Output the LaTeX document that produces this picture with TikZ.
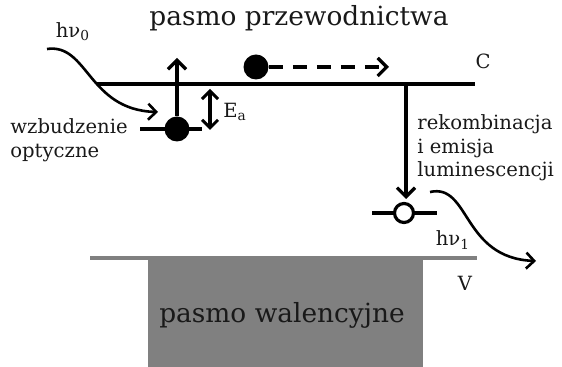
\documentclass[tikz,border=0pt]{standalone}
\usepackage{fontspec}
\setmainfont{DejaVu Serif}
\usetikzlibrary{arrows.meta}

\tikzset{
  level/.style={line width=2pt},
  electron/.style={circle, fill, inner sep=0pt, minimum size=12.5pt},
  hole/.style={circle, draw, fill=white, line width=1.6pt, inner sep=0pt, minimum size=9.5pt},
  tip/.style={-{Straight Barb[length=4.5pt, width=9pt, line width=1.6pt]}},
  jump/.style={line width=2pt, tip},
  photon/.style={line width=1.3pt, -{Straight Barb[length=4pt, width=8pt, line width=1.3pt]}},
  lbl/.style={font=\fontsize{9.8}{11.8}\selectfont, text=black!90, inner sep=0pt},
  big/.style={font=\fontsize{13.2}{15}\selectfont, text=black!90, inner sep=0pt}
}

\begin{document}
\begin{tikzpicture}[x=0.5pt, y=-0.5pt]
  \useasboundingbox (0,0) rectangle (562,367);

  % valence band
  \fill[black!50] (148,258) rectangle (423,367);
  \draw[level, black!50] (90,258) -- (477,258);
  \node[big] (vb) at (282,315) {pasmo walencyjne};
  \node[lbl] (vlab) at (465,283) {V};

  % conduction band
  \coordinate (cl) at (97,84);
  \coordinate (cr) at (475,84);
  \draw[level] (cl) -- (cr);
  \node[big] (cb) at (299,18) {pasmo przewodnictwa};
  \node[lbl] (clab) at (483,61) {C};

  % trap level with electron
  \draw[level] (140,129) -- (202,129);
  \node[electron] (e1) at (177,129) {};
  \coordinate (up) at (177,58);
  \draw[jump] (e1) -- (up);
  \coordinate (ea1) at (210,89);
  \coordinate (ea2) at (210,130);
  \draw[line width=1.8pt, {Straight Barb[length=4pt, width=8pt, line width=1.5pt]}-{Straight Barb[length=4pt, width=8pt, line width=1.5pt]}] (ea1) -- (ea2);
  \node[lbl] (ea) at (235,112) {E\textsubscript{a}};
  \node[lbl, anchor=west, align=left] (exc) at (10,140) {wzbudzenie\\optyczne};

  % free electron moving in the band
  \node[electron] (e2) at (256,67) {};
  \coordinate (drift) at (389,67);
  \draw[jump, dash pattern=on 7pt off 5pt] (e2) -- (drift);

  % incoming photon
  \coordinate (p0) at (47,49);
  \coordinate (p0end) at (158,112);
  \node[lbl] (hv0) at (73,32) {hν\textsubscript{0}};
  \draw[photon] (p0) .. controls (88,43) and (88,110) .. (p0end);

  % recombination
  \draw[level] (372,213) -- (437,213);
  \node[hole] (h1) at (404,213) {};
  \coordinate (rc) at (406,84);
  \draw[jump] (rc) -- (406,199);
  \node[lbl, anchor=west, align=left] (rek) at (417,148) {rekombinacja\\i emisja\\luminescencji};

  % emitted photon
  \coordinate (p1) at (430,192);
  \coordinate (p1end) at (536,261);
  \node[lbl] (hv1) at (453,240) {hν\textsubscript{1}};
  \draw[photon] (p1) .. controls (470,183) and (462,258) .. (p1end);
\end{tikzpicture}
\end{document}
